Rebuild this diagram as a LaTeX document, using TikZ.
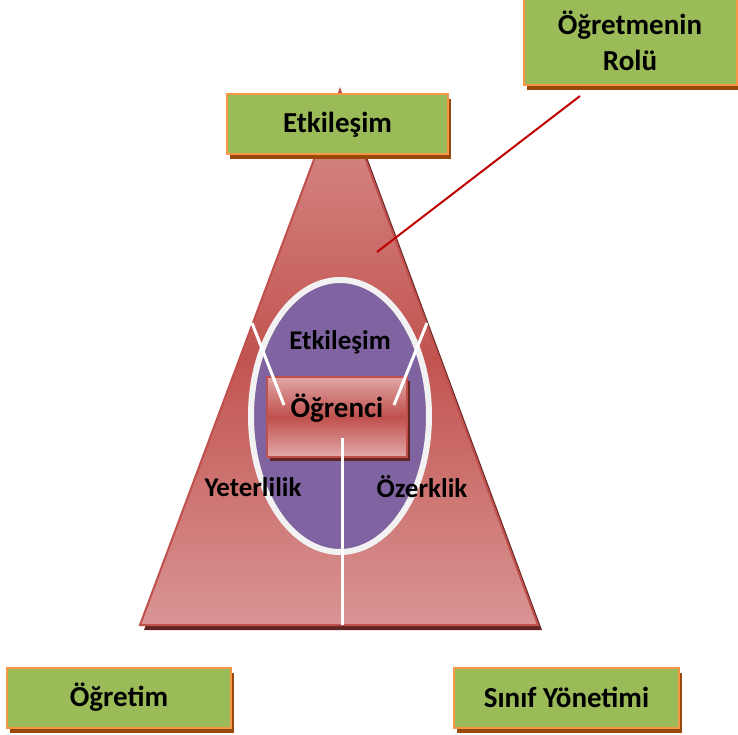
\documentclass[tikz,border=0pt]{standalone}
\usepackage{fontspec}
\setmainfont{Carlito}
\usepackage{xcolor}
\usetikzlibrary{shapes.geometric,shadows}

\definecolor{boxgreen}{HTML}{9BBB59}
\definecolor{boxorange}{HTML}{F79646}
\definecolor{boxshadow}{HTML}{984807}
\definecolor{tritop}{HTML}{D8908E}
\definecolor{trimid}{HTML}{C25450}
\definecolor{tribot}{HTML}{D99594}
\definecolor{triedge}{HTML}{C0504D}
\definecolor{redshadow}{HTML}{632523}
\definecolor{ovalpurple}{HTML}{8064A2}
\definecolor{rolered}{HTML}{C00000}

\begin{document}
\begin{tikzpicture}[x=1pt,y=-1pt]
  % Styles
  \tikzset{
    topic/.style={rectangle, draw=boxorange, line width=2pt, fill=boxgreen,
      minimum width=#1, minimum height=60pt, align=center,
      font=\fontsize{29}{36}\selectfont\bfseries, inner sep=0pt,
      drop shadow={shadow xshift=3pt, shadow yshift=-5pt, fill=boxshadow, opacity=1}},
    topic/.default=220pt,
    inlabel/.style={font=\fontsize{27}{32}\selectfont\bfseries, inner sep=0pt},
    core/.style={rectangle, draw=triedge, line width=1.5pt,
      top color=tritop!80!white, bottom color=tribot!80!white, middle color=triedge,
      minimum width=140pt, minimum height=80pt,
      drop shadow={shadow xshift=3pt, shadow yshift=-4pt, fill=redshadow, opacity=1}},
    spoke/.style={white, line width=3pt},
    pointer/.style={rolered, line width=2pt}
  }

  \useasboundingbox (0,0) rectangle (738,735);

  % Triangle
  \coordinate (apex) at (340,90);
  \coordinate (baseL) at (140,625);
  \coordinate (baseR) at (538,625);
  \fill[redshadow] ([shift={(4,5)}]apex) -- ([shift={(4,5)}]baseL) -- ([shift={(4,5)}]baseR) -- cycle;
  \draw[triedge, line width=2pt, top color=tritop, bottom color=tribot, middle color=trimid]
    (apex) -- (baseL) -- (baseR) -- cycle;

  % Role pointer
  \coordinate (roletip) at (377,252);

  % Oval and learner
  \node[ellipse, draw=white!95!black, line width=6pt, fill=ovalpurple,
    minimum width=178pt, minimum height=272pt] (oval) at (340,416) {};
  \node[inlabel] (ovaltop) at (340,342) {Etkileşim};
  \node[core, label={[font=\fontsize{29}{34}\selectfont\bfseries, yshift=9pt]center:Öğrenci}]
    (ogrenci) at (337,417) {};
  \node[inlabel] (yeter) at (253,487) {Yeterlilik};
  \node[inlabel] (ozerk) at (422,487) {Özerklik};

  % Spokes
  \coordinate (spokeL) at (252,323);
  \coordinate (spokeR) at (427,323);
  \coordinate (spokeB) at (342,625);
  \draw[spoke] (spokeL) -- (284,405);
  \draw[spoke] (spokeR) -- (394,405);
  \draw[spoke] (342,438) -- (spokeB);

  % Topic boxes
  \node[topic=221pt] (etkilesim) at (337.5,124.5) {Etkileşim};
  \node[topic=213pt, minimum height=88pt] (rolu) at (630,41) {Öğretmenin\\Rolü};
  \node[topic=224pt] (ogretim) at (119,697.5) {Öğretim};
  \node[topic=225pt] (sinif) at (566.5,697.5) {Sınıf Yönetimi};

  \draw[pointer] ([shift={(-50,10)}]rolu.south) -- (roletip);
\end{tikzpicture}
\end{document}
